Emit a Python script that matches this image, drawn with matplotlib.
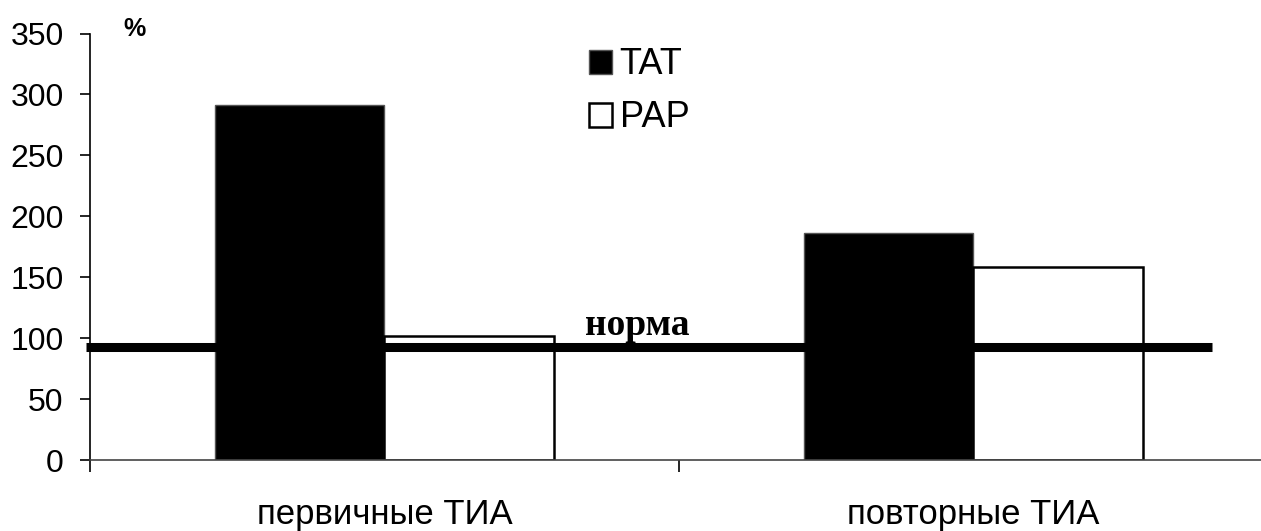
import numpy as np
import matplotlib
matplotlib.use("Agg")
from matplotlib import pyplot as plt

# Bar values, % of the norm
groups = ["первичные ТИА", "повторные ТИА"]
tat = [291, 186]
pap = [102, 158]
norm_level = 93

plt.rcParams["font.family"] = ["Liberation Sans", "DejaVu Sans"]

fig = plt.figure(figsize=(12.61, 5.31), dpi=100)
ax = fig.add_axes([0.0714, 0.1337, 0.934, 0.8032])

x = np.arange(len(groups))
w = 0.288
b1 = ax.bar(x - w / 2, tat, w, color="black", edgecolor="#555555",
            linewidth=1.0, label="TAT", zorder=2)
b2 = ax.bar(x + w / 2, pap, w, color="white", edgecolor="black",
            linewidth=1.8, label="PAP", zorder=2)

# thick reference line for the norm
ax.plot([-0.507, 1.406], [norm_level, norm_level], color="black",
        linewidth=6.5, solid_capstyle="butt", clip_on=False, zorder=3)
ax.text(0.429, 102.6, "норма", family=["Liberation Serif"],
        fontweight="bold", fontsize=27, ha="center", va="baseline")

ax.set_xlim(-0.5, 1.5)
ax.set_ylim(0, 350)
ax.set_yticks(np.arange(0, 351, 50))
ax.tick_params(axis="y", labelsize=23, length=7, width=1.2, pad=12)

ax.set_xticks(x)
ax.set_xticklabels(groups, fontsize=25)
ax.tick_params(axis="x", which="major", length=0, pad=27)
ax.set_xticks([-0.5, 0.5, 1.5], minor=True)
ax.tick_params(axis="x", which="minor", length=8.5, width=1.2)

for s in ["top", "right"]:
    ax.spines[s].set_visible(False)
ax.spines["left"].set_linewidth(1.2)
ax.spines["bottom"].set_linewidth(1.2)
ax.spines["bottom"].set_color("#444444")

fig.text(0.0975, 0.933, "%", fontsize=18, fontweight="bold")

fig.legend(handles=[b1, b2], loc="upper left", bbox_to_anchor=(0.4555, 0.938),
           frameon=False, fontsize=26, handlelength=0.65, handleheight=0.65,
           handletextpad=0.2, labelspacing=0.5, borderaxespad=0)

fig.savefig("out.png", dpi=100)
